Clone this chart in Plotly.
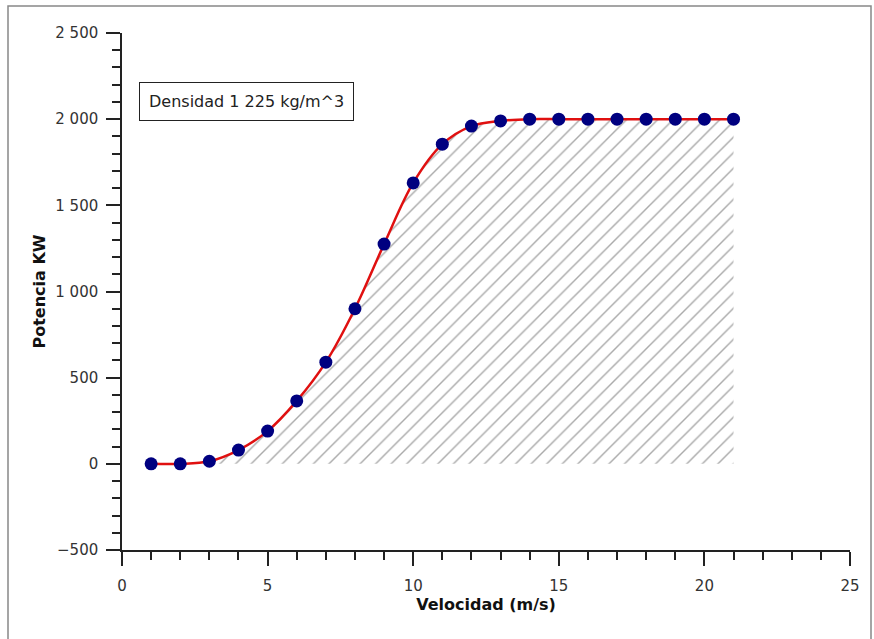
import plotly.graph_objects as go

velocidad = [1, 2, 3, 4, 5, 6, 7, 8, 9, 10, 11, 12, 13, 14, 15, 16, 17, 18, 19, 20, 21]
potencia = [0, 0, 15, 80, 190, 365, 590, 900, 1275, 1630, 1855, 1960, 1990,
            2000, 2000, 2000, 2000, 2000, 2000, 2000, 2000]
x_ticks = [0, 5, 10, 15, 20, 25]
y_ticks = [-500, 0, 500, 1000, 1500, 2000, 2500]
anotacion = "Densidad 1 225 kg/m^3"

FONT = "DejaVu Sans"
W, H = 874, 639
L, T = 122, 33
pw, ph = 728, 517
R, B = W - L - pw, H - T - ph

fig = go.Figure()

# hatched area under the curve
fig.add_trace(go.Scatter(
    x=velocidad, y=potencia, mode="lines", line=dict(width=0, shape="spline"),
    fill="tozeroy", fillcolor="rgba(0,0,0,0)",
    fillpattern=dict(shape="/", fgcolor="#555555", bgcolor="rgba(255,255,255,0)",
                     size=11, solidity=0.13),
    hoverinfo="skip", showlegend=False,
))
# red smooth curve
fig.add_trace(go.Scatter(
    x=velocidad, y=potencia, mode="lines",
    line=dict(color="#e01010", width=2.5, shape="spline"),
    showlegend=False,
))
# navy markers
fig.add_trace(go.Scatter(
    x=velocidad, y=potencia, mode="markers",
    marker=dict(color="#000080", size=13),
    showlegend=False,
))

axis_common = dict(
    showgrid=False, zeroline=False, showline=True, linecolor="#222222", linewidth=1.5,
    ticks="outside", ticklen=14, tickwidth=1.5, tickcolor="#222222",
    tickfont=dict(family=FONT, size=15, color="#333333"),
    minor=dict(ticks="outside", ticklen=8, tickwidth=1.5, tickcolor="#222222"),
)

fig.update_xaxes(
    range=[0, 25], tickvals=x_ticks, minor_dtick=1, ticklabelstandoff=7,
    title=dict(text="<b>Velocidad (m/s)</b>", font=dict(family=FONT, size=16, color="#111111"), standoff=4),
    **axis_common,
)
fig.update_yaxes(
    range=[-500, 2500], tickvals=y_ticks, tickformat=",d", minor_dtick=100, ticklabelstandoff=5,
    title=dict(text="<b>Potencia KW</b>", font=dict(family=FONT, size=16, color="#111111"), standoff=6),
    **axis_common,
)

fig.add_annotation(
    x=4.29, y=2105, xref="x", yref="y", text=anotacion, showarrow=False,
    font=dict(family=FONT, size=16, color="#222222"),
    bordercolor="#222222", borderwidth=1, borderpad=9, bgcolor="white",
)

# outer frame
fig.add_shape(type="rect", xref="paper", yref="paper",
              x0=(8 - L) / pw, x1=(871 - L) / pw,
              y0=-0.3, y1=(ph + T - 6) / ph,
              line=dict(color="#888888", width=1.5))

fig.update_layout(
    width=W, height=H, margin=dict(l=L, r=R, t=T, b=B, autoexpand=False),
    paper_bgcolor="white", plot_bgcolor="white",
    separators=". ", showlegend=False,
)

fig.write_html("out.html", config={"displayModeBar": False},
               post_script="document.body.style.margin='0';")
